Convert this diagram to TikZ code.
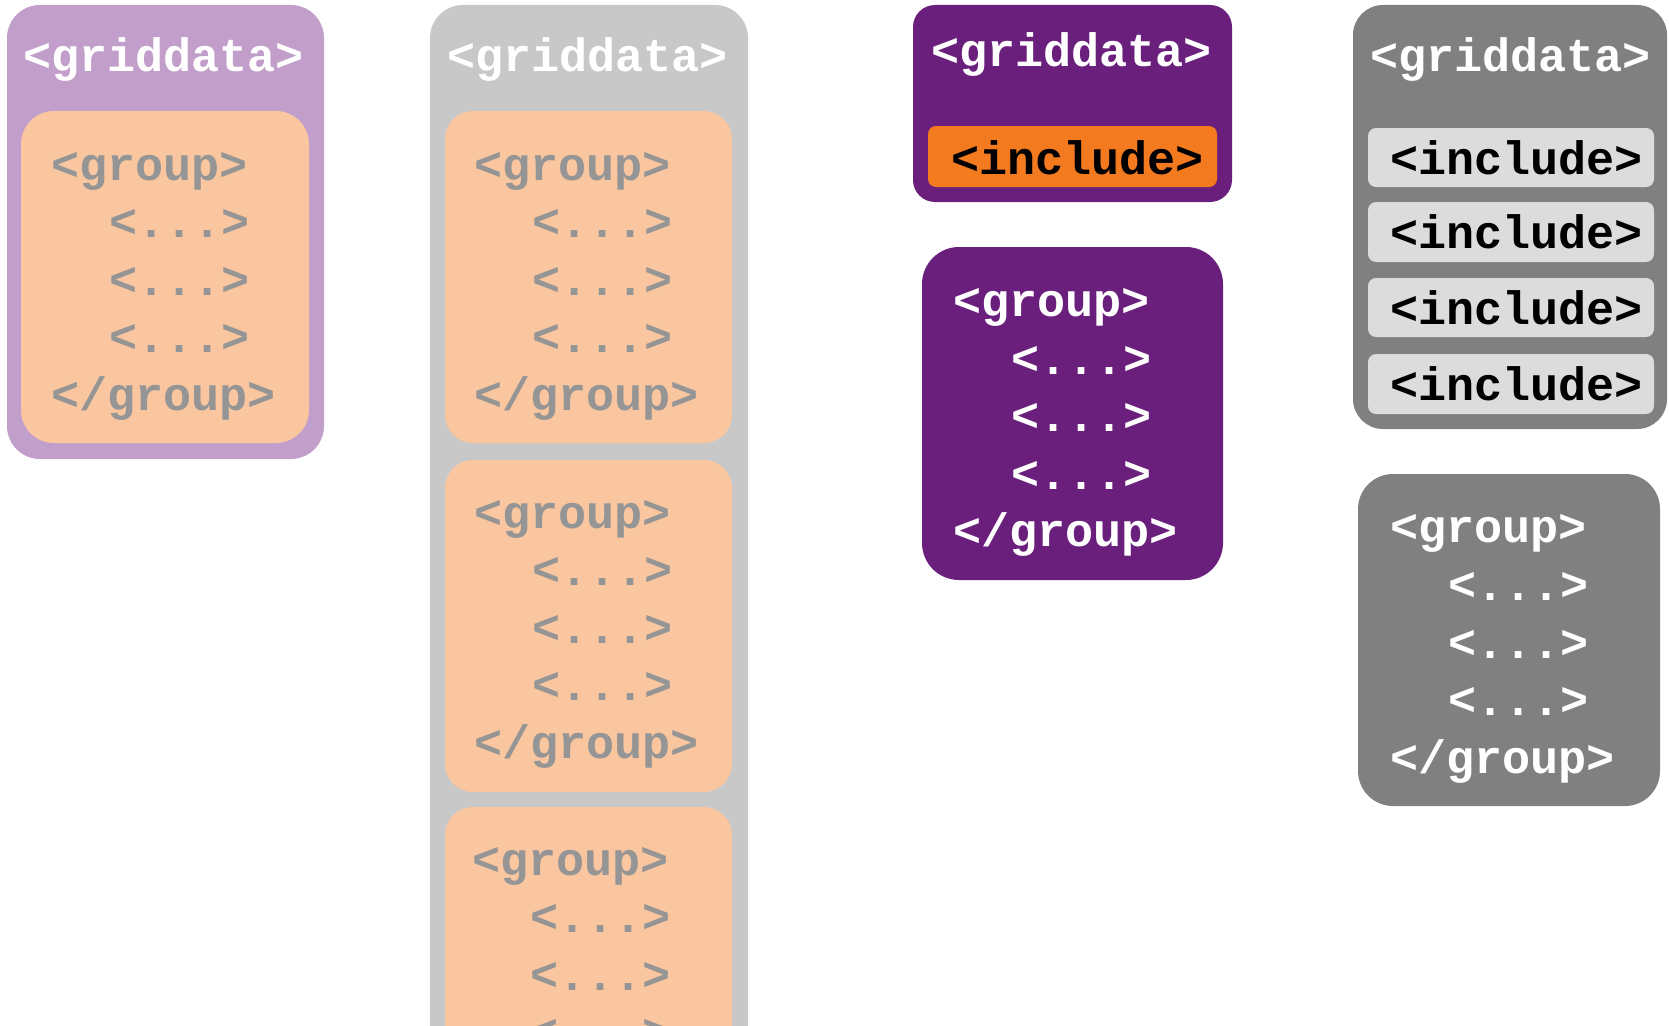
\documentclass[tikz,border=0pt]{standalone}
\usepackage{fontspec}
\setmonofont{Liberation Mono}
\definecolor{lilac}{HTML}{C29FCA}
\definecolor{peach}{HTML}{F9C6A0}
\definecolor{paleGray}{HTML}{C8C8C8}
\definecolor{tagGray}{HTML}{959595}
\definecolor{plum}{HTML}{6A1F7C}
\definecolor{tangerine}{HTML}{F47A20}
\definecolor{midGray}{HTML}{808080}
\definecolor{lightGray}{HTML}{DCDCDC}
\tikzset{
  tag/.style={font=\fontsize{46.8}{56}\selectfont\ttfamily\bfseries, inner sep=0pt, anchor=mid west, yshift=-13pt},
  pale/.style={tag, text=tagGray},
  bright/.style={tag, text=white},
  dark/.style={tag, text=black},
}
\begin{document}
\begin{tikzpicture}[x=1pt,y=-1pt]
\useasboundingbox (0,0) rectangle (1669,1025);
\clip (0,0) rectangle (1669,1025);
\fill[white] (0,0) rectangle (1669,1025);

% --- column 1: griddata holding one group ---
\fill[lilac, rounded corners=33] (7,5) rectangle (324,459);
\fill[peach, rounded corners=33] (21,111) rectangle (309,443);
\node[bright] (g1) at (23,56) {<griddata>};
\node[pale] (a1) at (51,165) {<group>};
\node[pale] (a2) at (109,222.5) {<...>};
\node[pale] (a3) at (109,280) {<...>};
\node[pale] (a4) at (109,337.5) {<...>};
\node[pale] (a5) at (51,395) {</group>};

% --- column 2: griddata holding several groups ---
\fill[paleGray, rounded corners=33] (430,5) rectangle (748,1100);
\fill[peach, rounded corners=28] (445,111) rectangle (732,443);
\fill[peach, rounded corners=28] (445,460) rectangle (732,792);
\fill[peach, rounded corners=28] (445,807) rectangle (732,1139);
\node[bright] (g2) at (447,56) {<griddata>};
\node[pale] (b1) at (474,165) {<group>};
\node[pale] (b2) at (532,222.5) {<...>};
\node[pale] (b3) at (532,280) {<...>};
\node[pale] (b4) at (532,337.5) {<...>};
\node[pale] (b5) at (474,395) {</group>};
\node[pale] (c1) at (474,513) {<group>};
\node[pale] (c2) at (532,570.5) {<...>};
\node[pale] (c3) at (532,628) {<...>};
\node[pale] (c4) at (532,685.5) {<...>};
\node[pale] (c5) at (474,743) {</group>};
\node[pale] (d1) at (472,860) {<group>};
\node[pale] (d2) at (530,917.5) {<...>};
\node[pale] (d3) at (530,975) {<...>};
\node[pale] (d4) at (530,1032.5) {<...>};

% --- column 3: griddata with one include, separate group ---
\fill[plum, rounded corners=22] (913,5) rectangle (1232,202);
\fill[tangerine, rounded corners=8] (928,126) rectangle (1217,187);
\node[bright] (g3) at (931,51) {<griddata>};
\node[dark] (i3) at (951,159) {<include>};
\fill[plum, rounded corners=37] (922,247) rectangle (1223,580);
\node[bright] (e1) at (953,301) {<group>};
\node[bright] (e2) at (1011,359) {<...>};
\node[bright] (e3) at (1011,416) {<...>};
\node[bright] (e4) at (1011,474) {<...>};
\node[bright] (e5) at (953,531) {</group>};

% --- column 4: griddata with several includes, separate group ---
\fill[midGray, rounded corners=30] (1353,5) rectangle (1667,429);
\fill[lightGray, rounded corners=8] (1368,128) rectangle (1654,187);
\fill[lightGray, rounded corners=8] (1368,202) rectangle (1654,262);
\fill[lightGray, rounded corners=8] (1368,278) rectangle (1654,337);
\fill[lightGray, rounded corners=8] (1368,354) rectangle (1654,414);
\node[bright] (g4) at (1370,56) {<griddata>};
\node[dark] (i4a) at (1390,159) {<include>};
\node[dark] (i4b) at (1390,233) {<include>};
\node[dark] (i4c) at (1390,309) {<include>};
\node[dark] (i4d) at (1390,385) {<include>};
\fill[midGray, rounded corners=35] (1358,474) rectangle (1660,806);
\node[bright] (f1) at (1390,527) {<group>};
\node[bright] (f2) at (1448,585) {<...>};
\node[bright] (f3) at (1448,643) {<...>};
\node[bright] (f4) at (1448,700) {<...>};
\node[bright] (f5) at (1390,758) {</group>};
\end{tikzpicture}
\end{document}
